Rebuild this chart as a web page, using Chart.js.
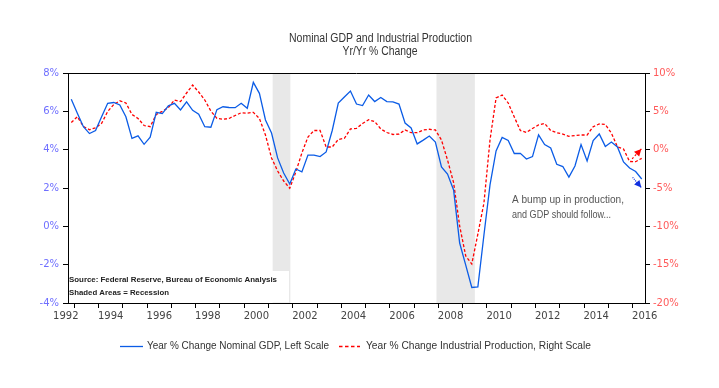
<!DOCTYPE html>
<html>
<head>
<meta charset="utf-8">
<script src="https://cdn.jsdelivr.net/npm/chart.js@4.4.7/dist/chart.umd.min.js"></script>
<style>
  html, body { margin: 0; padding: 0; background: #fff; }
  #wrap { width: 719px; height: 388px; position: relative; }
</style>
</head>
<body>
<div id="wrap"><canvas id="chart"></canvas></div>
<script>
// ---- Data (quarterly, first value = 1992Q4, last = 2016Q2) ----
const FIRST_QUARTER = 1992.875; // mid-point of 1992Q4
const gdpYoY = [
  6.63,
  5.9, 5.2, 4.84, 5.0,
  5.72, 6.42, 6.46, 6.33,
  5.72, 4.59, 4.72, 4.28,
  4.65, 5.95, 5.88, 6.29,
  6.42, 6.07, 6.49, 6.05,
  5.85, 5.2, 5.17, 6.09,
  6.24, 6.2, 6.19, 6.42,
  6.16, 7.51, 6.94, 5.55,
  4.87, 3.57, 2.78, 2.21,
  2.99, 2.84, 3.72, 3.72,
  3.64, 3.88, 5.0, 6.43,
  6.75, 7.06, 6.38, 6.3,
  6.85, 6.51, 6.72, 6.51,
  6.49, 6.38, 5.39, 5.13,
  4.3, 4.5, 4.71, 4.4,
  3.1, 2.73, 1.9, -0.87,
  -2.02, -3.19, -3.16, -0.45,
  2.16, 3.93, 4.64, 4.48,
  3.8, 3.81, 3.51, 3.64,
  4.77, 4.27, 4.09, 3.24,
  3.12, 2.57, 3.15, 4.27,
  3.41, 4.48, 4.82, 4.17,
  4.4, 4.14, 3.36, 3.04,
  2.86, 2.47,
];
const ipYoY = [
  3.54,
  4.29, 3.02, 2.6, 2.85,
  3.44, 4.98, 5.89, 6.37,
  6.09, 4.59, 4.07, 3.15,
  3.0, 4.59, 5.0, 5.5,
  6.48, 6.28, 7.39, 8.43,
  7.52, 6.48, 5.04, 4.07,
  3.97, 4.07, 4.46, 4.81,
  4.76, 4.87, 4.07, 1.91,
  -1.09, -2.78, -4.09, -5.04,
  -2.91, -0.43, 1.65, 2.5,
  2.5, 0.35, 0.35, 1.33,
  1.48, 2.7, 2.79, 3.41,
  3.9, 3.67, 2.7, 2.24,
  1.98, 2.04, 2.57, 2.21,
  2.21, 2.57, 2.66, 2.57,
  1.26, -1.35, -4.3, -9.96,
  -13.87, -14.91, -11.0, -6.96,
  1.26, 6.74, 7.13, 6.09,
  4.26, 2.5, 2.24, 2.76,
  3.22, 3.41, 2.5, 2.21,
  2.04, 1.74, 1.85, 1.91,
  1.91, 3.0, 3.35, 3.28,
  2.17, 0.35, 0.09, -1.54,
  -1.57, -1.13,
];
const yearLabels = ['1992', '1994', '1996', '1998', '2000', '2002', '2004', '2006', '2008', '2010', '2012', '2014', '2016'];
const leftTicks = [-4, -2, 0, 2, 4, 6, 8];
const rightTicks = [-20, -15, -10, -5, 0, 5, 10];
const recessions = [[2001.17, 2001.9], [2007.92, 2009.5]];

const X_MIN = 1992.74;
const X_MAX = 2016.51;

const titleLines = ['Nominal GDP and Industrial Production', 'Yr/Yr % Change'];
const noteLines = ['A bump up in production,', 'and GDP should follow...'];
const sourceLines = ['Source: Federal Reserve, Bureau of Economic Analysis', 'Shaded Areas = Recession'];

const BLUE = '#0b5ce6';
const RED = '#ff0000';

function toPoints(values) {
  return values.map((v, i) => ({ x: FIRST_QUARTER + i * 0.25, y: v }));
}

// year boundary tick marks + mid-year label positions
const boundaryTicks = [];
for (let y = Math.ceil(X_MIN); y <= Math.floor(X_MAX); y++) boundaryTicks.push(y);
const labelPos = {};
yearLabels.forEach((l) => {
  const pos = Math.max(Number(l) + 0.5, 1992.65);
  labelPos[pos.toFixed(2)] = l;
});

// draw text squeezed to a target width (the original font is condensed)
function fitText(ctx, text, x, y, width, font, color, align) {
  ctx.save();
  ctx.font = font;
  ctx.fillStyle = color;
  ctx.textBaseline = 'middle';
  ctx.textAlign = 'left';
  const w = ctx.measureText(text).width;
  const s = width ? width / w : 1;
  let left = x;
  if (align === 'center') left = x - (w * s) / 2;
  ctx.translate(left, y);
  ctx.scale(s, 1);
  ctx.fillText(text, 0, 0);
  ctx.restore();
}

function arrow(ctx, x0, y0, x1, y1, color, dash) {
  ctx.save();
  ctx.strokeStyle = color;
  ctx.fillStyle = color;
  ctx.lineWidth = 1.2;
  ctx.setLineDash(dash);
  ctx.beginPath();
  ctx.moveTo(x0, y0);
  ctx.lineTo(x1, y1);
  ctx.stroke();
  ctx.setLineDash([]);
  const a = Math.atan2(y1 - y0, x1 - x0);
  const len = 7, half = 3.5;
  ctx.beginPath();
  ctx.moveTo(x1, y1);
  ctx.lineTo(x1 - len * Math.cos(a) + half * Math.sin(a), y1 - len * Math.sin(a) - half * Math.cos(a));
  ctx.lineTo(x1 - len * Math.cos(a) - half * Math.sin(a), y1 - len * Math.sin(a) + half * Math.cos(a));
  ctx.closePath();
  ctx.fill();
  ctx.restore();
}

const decorPlugin = {
  id: 'decor',
  beforeDatasetsDraw(chart) {
    const { ctx, chartArea: a, scales } = chart;
    ctx.save();
    ctx.fillStyle = '#e8e8e8';
    recessions.forEach(([s, e]) => {
      const x0 = scales.x.getPixelForValue(s);
      const x1 = scales.x.getPixelForValue(e);
      ctx.fillRect(x0, a.top, x1 - x0, a.bottom - a.top);
    });
    // white box under the source note
    ctx.fillStyle = '#fff';
    ctx.fillRect(a.left + 1, 271, 220, a.bottom - 271 - 0.5);
    ctx.restore();
  },
  afterDatasetsDraw(chart) {
    const { ctx, chartArea: a, scales } = chart;
    // top frame line
    ctx.save();
    ctx.strokeStyle = '#000';
    ctx.lineWidth = 1;
    ctx.beginPath();
    ctx.moveTo(a.left, Math.round(a.top) + 0.5);
    ctx.lineTo(a.right, Math.round(a.top) + 0.5);
    ctx.stroke();
    ctx.restore();

    // arrows at the end of the series
    const xs = scales.x, yl = scales.yL, yr = scales.yR;
    arrow(ctx, xs.getPixelForValue(2015.98), yr.getPixelForValue(-1.2),
      xs.getPixelForValue(2016.36), yr.getPixelForValue(0.1), RED, [2, 2]);
    arrow(ctx, xs.getPixelForValue(2016.0), yl.getPixelForValue(2.55),
      xs.getPixelForValue(2016.36), yl.getPixelForValue(2.02), '#1030e0', [1, 1]);

    // note
    const noteFont = '11px "Liberation Sans", Arial, sans-serif';
    fitText(ctx, noteLines[0], 512, 200, 112, noteFont, '#555');
    fitText(ctx, noteLines[1], 512, 215, 99, noteFont, '#555');

    // source
    const srcFont = 'bold 8px "Liberation Sans", Arial, sans-serif';
    fitText(ctx, sourceLines[0], 69, 280, 208, srcFont, '#222');
    fitText(ctx, sourceLines[1], 69, 293, 100, srcFont, '#222');

    // title
    const titleFont = '12px "Liberation Sans", Arial, sans-serif';
    fitText(ctx, titleLines[0], 380.5, 39, 183, titleFont, '#333', 'center');
    fitText(ctx, titleLines[1], 380, 52, 75, titleFont, '#333', 'center');

    // legend
    const ds = chart.data.datasets;
    const legFont = '11px "Liberation Sans", Arial, sans-serif';
    ctx.save();
    ctx.lineWidth = 1.3;
    ctx.strokeStyle = ds[0].borderColor;
    ctx.beginPath(); ctx.moveTo(120, 346.5); ctx.lineTo(143, 346.5); ctx.stroke();
    ctx.strokeStyle = ds[1].borderColor;
    ctx.setLineDash([3.5, 2.5]);
    ctx.beginPath(); ctx.moveTo(339, 346.5); ctx.lineTo(360, 346.5); ctx.stroke();
    ctx.restore();
    fitText(ctx, ds[0].label, 147, 346, 182, legFont, '#333');
    fitText(ctx, ds[1].label, 366, 346, 225, legFont, '#333');
  },
};

const tickFont = { family: '"DejaVu Sans", sans-serif', size: 10 };

new Chart(document.getElementById('chart'), {
  type: 'line',
  data: {
    datasets: [
      {
        label: 'Year % Change Nominal GDP, Left Scale',
        data: toPoints(gdpYoY),
        yAxisID: 'yL',
        borderColor: BLUE,
        borderWidth: 1.3,
        pointRadius: 0,
        tension: 0,
      },
      {
        label: 'Year % Change Industrial Production, Right Scale',
        data: toPoints(ipYoY),
        yAxisID: 'yR',
        borderColor: RED,
        borderWidth: 1.3,
        borderDash: [3, 2],
        pointRadius: 0,
        tension: 0,
      },
    ],
  },
  options: {
    responsive: true,
    maintainAspectRatio: false,
    animation: false,
    layout: { padding: { left: 8, right: 24, top: 73, bottom: 60 } },
    plugins: {
      legend: { display: false },
      title: { display: false },
      tooltip: { enabled: false },
    },
    scales: {
      x: {
        type: 'linear',
        min: X_MIN,
        max: X_MAX,
        afterBuildTicks: (scale) => {
          const vals = [...boundaryTicks, ...Object.keys(labelPos).map(Number)].sort((p, q) => p - q);
          scale.ticks = vals.map((v) => ({ value: v }));
        },
        afterFit: (scale) => { scale.height = 25; },
        ticks: {
          autoSkip: false,
          maxRotation: 0,
          padding: 2,
          color: '#444',
          font: tickFont,
          callback: (v) => labelPos[Number(v).toFixed(2)] || '',
        },
        grid: {
          drawOnChartArea: false,
          tickLength: 5,
          tickColor: (c) => (c.tick && Number.isInteger(c.tick.value) ? '#000' : 'rgba(0,0,0,0)'),
        },
        border: { color: '#000', width: 1 },
      },
      yL: {
        type: 'linear',
        position: 'left',
        min: -4,
        max: 8,
        afterBuildTicks: (scale) => { scale.ticks = leftTicks.map((v) => ({ value: v })); },
        afterFit: (scale) => { scale.width = 60; },
        ticks: { color: '#6f6fff', font: tickFont, padding: 4, callback: (v) => v + '%' },
        grid: { drawOnChartArea: false, tickLength: 5, tickColor: '#000' },
        border: { color: '#000', width: 1 },
      },
      yR: {
        type: 'linear',
        position: 'right',
        min: -20,
        max: 10,
        afterBuildTicks: (scale) => { scale.ticks = rightTicks.map((v) => ({ value: v })); },
        afterFit: (scale) => { scale.width = 50; },
        ticks: { color: '#ff5a5a', font: tickFont, padding: 3, callback: (v) => v + '%' },
        grid: { drawOnChartArea: false, tickLength: 5, tickColor: '#000' },
        border: { color: '#000', width: 1 },
      },
    },
  },
  plugins: [decorPlugin],
});
</script>
</body>
</html>
